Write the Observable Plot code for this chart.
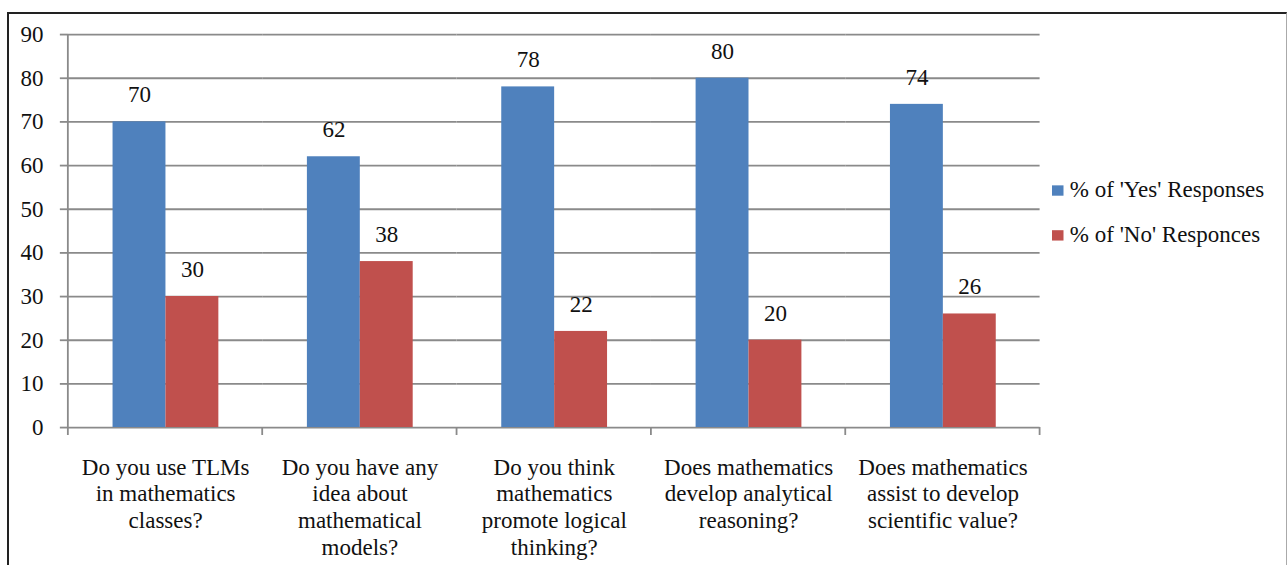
<!DOCTYPE html>
<html>
<head>
<meta charset="utf-8">
<script src="https://cdn.jsdelivr.net/npm/d3@7"></script>
<script src="https://cdn.jsdelivr.net/npm/@observablehq/plot@0.6"></script>
<style>
  body { margin: 0; background: #fff; font-family: 'Liberation Serif', serif; }
  #wrap { position: relative; width: 1287px; height: 565px; overflow: hidden; }
  #chart svg { display: block; }
  #frame { position: absolute; left: 7px; top: 12px; right: 0; bottom: -6px; border-left: 2px solid #222; border-top: 2px solid #222; border-right: 1px solid #aaa; pointer-events: none; }
  /* legend is laid out at 20px and enlarged as a whole */
  #legend { position: absolute; left: 1052px; top: 175px; font-size: 20px; color: #111; transform: scale(1.15); transform-origin: 0 0; }
  #legend .item { position: relative; height: 39px; white-space: nowrap; }
  #legend .sw { position: absolute; left: 0; top: 8.5px; width: 9.5px; height: 9.5px; }
  #legend .lab { position: absolute; left: 15.5px; top: 0; line-height: 24px; }
</style>
</head>
<body>
<div id="wrap">
  <div id="chart"></div>
  <div id="legend"></div>
  <div id="frame"></div>
</div>
<script>
// Survey questions (category labels, one line per array entry)
const questions = [
  "Do you use TLMs\nin mathematics\nclasses?",
  "Do you have any\nidea about\nmathematical\nmodels?",
  "Do you think\nmathematics\npromote logical\nthinking?",
  "Does mathematics\ndevelop analytical\nreasoning?",
  "Does mathematics\nassist to develop\nscientific value?"
];
const seriesNames = ["% of 'Yes' Responses", "% of 'No' Responces"];
const seriesColors = ["#4F81BD", "#C0504D"];
const yesValues = [70, 62, 78, 80, 74];
const noValues = [30, 38, 22, 20, 26];
const yTicks = [0, 10, 20, 30, 40, 50, 60, 70, 80, 90];

const rows = [];
questions.forEach((q, i) => {
  rows.push({question: q, series: seriesNames[0], value: yesValues[i]});
  rows.push({question: q, series: seriesNames[1], value: noValues[i]});
});

// The chart is laid out in a coordinate space 1.15x smaller than the page
// (20px type) and enlarged through the SVG viewBox.
const W = 1287, H = 565, k = 1.15;
const u = v => v / k;
const gridColor = "#8a8a8a";
const fontSize = 20;
const serif = "Liberation Serif";
const lineW = u(1.8);

const chart = Plot.plot({
  width: u(W),
  height: u(H),
  marginLeft: u(68),
  marginRight: u(247),
  marginTop: u(34),
  marginBottom: u(138),
  style: {fontFamily: serif, fontSize: fontSize + "px", color: "#111", background: "transparent", overflow: "visible"},
  fx: {domain: questions, padding: 0, label: null},
  x: {domain: seriesNames, paddingInner: 0, paddingOuter: 0.8, axis: null},
  y: {domain: [0, 90], label: null},
  color: {domain: seriesNames, range: seriesColors},
  marks: [
    Plot.gridY(yTicks, {stroke: gridColor, strokeOpacity: 1, strokeWidth: lineW}),
    Plot.axisY(yTicks, {tickSize: u(8), tickPadding: u(17), stroke: gridColor, strokeWidth: lineW, fontSize, label: null}),
    Plot.barY(rows, {fx: "question", x: "series", y: "value", fill: "series"}),
    Plot.text(rows, {fx: "question", x: "series", y: "value", text: d => String(d.value), dy: u(-27), fontSize, fill: "#111"}),
    Plot.axisFx({anchor: "bottom", tickSize: 0, tickPadding: u(28), lineHeight: 1.16, fontSize, fill: "#111", label: null})
  ]
});

// Value axis line and category boundary ticks, placed with the plot's own scales
const fx = chart.scale("fx");
const y = chart.scale("y");
const y0 = y.apply(0);
const yTop = y.apply(90);
const bounds = questions.map(q => fx.apply(q));
bounds.push(fx.apply(questions[questions.length - 1]) + fx.bandwidth);
const g = d3.select(chart).append("g").attr("stroke", gridColor).attr("stroke-width", lineW);
bounds.forEach((bx, i) => {
  g.append("line")
    .attr("x1", bx).attr("x2", bx)
    .attr("y1", i === 0 ? yTop : y0)
    .attr("y2", y0 + u(8));
});

d3.select(chart)
  .attr("viewBox", `0 0 ${u(W)} ${u(H)}`)
  .attr("width", W)
  .attr("height", H)
  .style("width", W + "px")
  .style("height", H + "px")
  .style("max-width", "none");

document.getElementById("chart").appendChild(chart);

// Legend
const legend = d3.select("#legend");
seriesNames.forEach((name, i) => {
  const item = legend.append("div").attr("class", "item");
  item.append("div").attr("class", "sw").style("background", seriesColors[i]);
  item.append("div").attr("class", "lab").text(name);
});
</script>
</body>
</html>
